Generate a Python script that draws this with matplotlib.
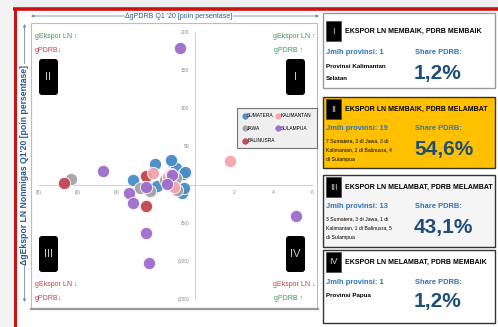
import matplotlib
matplotlib.use("Agg")
import matplotlib.pyplot as plt
from matplotlib.patches import Rectangle, FancyBboxPatch

plt.rcParams['font.family'] = ['Liberation Sans Narrow', 'Liberation Sans', 'DejaVu Sans']

# ---- data: change in PDRB growth (x) vs change in non-oil export growth (y), Q1 2020
regions = ['SUMATERA', 'JAWA', 'BALINUSRA', 'KALIMANTAN', 'SULAMPUA']
colors = ['#4a8cc6', '#a3a3a3', '#c0454f', '#f4a3ab', '#9c6ccb']

sumatera_x = [-3.2, -2.05, -1.18, -0.97, -0.6, -0.5, -1.95, -0.67, -0.55, -1.25]
sumatera_y = [7, 27, 30, 22, 14, 17, -1, -11, -4, 33]
jawa_x = [-6.35, -1.55, -1.0, -2.8, -0.9, -2.3]
jawa_y = [8, 6, 9, -4, -6, -8]
balinusra_x = [-6.7, -2.5, -2.5]
balinusra_y = [3, 12, -28]
kalimantan_x = [1.8, -2.15, -1.4, -1.25, -1.1]
kalimantan_y = [32, 16, 10, 15, -2]
sulampua_x = [-0.77, -4.7, -1.2, -1.45, -3.4, -3.2, -2.5, -2.5, -2.35, 5.2]
sulampua_y = [180, 18, 13, 1, -11, -24, -3, -63, -103, -41]

series_x = [sumatera_x, jawa_x, balinusra_x, kalimantan_x, sulampua_x]
series_y = [sumatera_y, jawa_y, balinusra_y, kalimantan_y, sulampua_y]

x_ticks = [-8, -6, -4, -2, 2, 4, 6]
x_tick_labels = ['(8)', '(6)', '(4)', '(2)', '2', '4', '6']
y_ticks = [200, 150, 100, 50, -50, -100, -150]
y_tick_labels = ['200', '150', '100', '50', '(50)', '(100)', '(150)']

# quadrant summary panels
quad_ids = ['I', 'II', 'III', 'IV']
quad_titles = ['EKSPOR LN MEMBAIK, PDRB MEMBAIK',
               'EKSPOR LN MEMBAIK, PDRB MELAMBAT',
               'EKSPOR LN MELAMBAT, PDRB MELAMBAT',
               'EKSPOR LN MELAMBAT, PDRB MEMBAIK']
quad_counts = ['Jmlh provinsi: 1', 'Jmlh provinsi: 19', 'Jmlh provinsi: 13', 'Jmlh provinsi: 1']
quad_details = [['Provinsi Kalimantan', 'Selatan'],
                ['7 Sumatera, 3 di Jawa, 3 di', 'Kalimantan, 2 di Balinusra, 4', 'di Sulampua'],
                ['3 Sumatera, 3 di Jawa, 1 di', 'Kalimantan, 1 di Balinusra, 5', 'di Sulampua'],
                ['Provinsi Papua']]
quad_shares = ['1,2%', '54,6%', '43,1%', '1,2%']

W, H = 498, 327
fig = plt.figure(figsize=(W / 100, H / 100), dpi=100)
fig.patch.set_facecolor('white')

# pixel-space canvas for frames, labels and panels
bg = fig.add_axes([0, 0, 1, 1])
bg.set_xlim(0, W)
bg.set_ylim(H, 0)
bg.axis('off')

bg.add_patch(Rectangle((0, 0), W, 8, facecolor='#eeeeee', edgecolor='none'))
bg.add_patch(Rectangle((0, 0), 13, H, facecolor='#f3f3f3', edgecolor='none'))
bg.plot([13, W], [9, 9], color='#cc1111', lw=2.6, solid_capstyle='butt')
bg.plot([14.5, 14.5], [8, H], color='#cc1111', lw=2.2, solid_capstyle='butt')

# plot box
PX0, PY0, PX1, PY1 = 31, 23, 317, 308
bg.add_patch(Rectangle((PX0, PY0), PX1 - PX0, PY1 - PY0, facecolor='white',
                       edgecolor='#bdbdbd', lw=0.8))
bg.plot([PX0, PX1 + 1], [PY1 + 0.8, PY1 + 0.8], color='#9a9a9a', lw=1.6)

# horizontal axis title with double arrow
axis_blue = '#2a5a8c'
bg.annotate('', xy=(31, 16), xytext=(319, 16),
            arrowprops=dict(arrowstyle='<|-|>', color='#6f8fb0', lw=0.6,
                            mutation_scale=4, shrinkA=0, shrinkB=0))
bg.text(179, 16, "\u0394gPDRB Q1 '20 [poin persentase]", ha='center', va='center',
        fontsize=5.0, color=axis_blue,
        bbox=dict(facecolor='white', edgecolor='none', pad=0.6))
# vertical axis title with double arrow
bg.annotate('', xy=(24.5, 24), xytext=(24.5, 302),
            arrowprops=dict(arrowstyle='<|-|>', color='#6f8fb0', lw=0.6,
                            mutation_scale=4, shrinkA=0, shrinkB=0))
bg.text(24.5, 165, "\u0394gEkspor LN Nonmigas Q1'20 [poin persentase]", ha='center',
        va='center', rotation=90, fontsize=6.2, color=axis_blue, fontweight='bold',
        bbox=dict(facecolor='white', edgecolor='none', pad=0.6))

# quadrant badges and corner notes
green, red = '#3a9a55', '#c4404a'
for lab, (bx, by) in zip(['II', 'I', 'III', 'IV'], [(39, 59), (286, 59), (39, 236), (286, 236)]):
    bg.add_patch(FancyBboxPatch((bx, by), 19, 36, boxstyle='round,pad=0,rounding_size=3',
                                facecolor='black', edgecolor='none'))
    bg.text(bx + 9.5, by + 18, lab, ha='center', va='center', fontsize=8, color='#c8c8c8')

corner_fs = 5.0
bg.text(35, 37, 'gEkspor LN \u2191', color=green, fontsize=corner_fs, va='center')
bg.text(35, 51, 'gPDRB\u2193', color=red, fontsize=corner_fs, va='center')
bg.text(273, 37, 'gEkspor LN \u2191', color=green, fontsize=corner_fs, va='center')
bg.text(274, 51, 'gPDRB \u2191', color=green, fontsize=corner_fs, va='center')
bg.text(35, 284, 'gEkspor LN \u2193', color=red, fontsize=corner_fs, va='center')
bg.text(35, 298, 'gPDRB\u2193', color=red, fontsize=corner_fs, va='center')
bg.text(273, 284, 'gEkspor LN \u2193', color=red, fontsize=corner_fs, va='center')
bg.text(274, 298, 'gPDRB \u2191', color=green, fontsize=corner_fs, va='center')

# ---- scatter axes (origin at pixel (195, 185); 19.5 px per x unit, 0.76 px per y unit)
x0p, y0p, sx, sy = 195, 185, 19.5, 0.76
ax = fig.add_axes([PX0 / W, (H - PY1) / H, (PX1 - PX0) / W, (PY1 - PY0) / H])
ax.set_xlim((PX0 - x0p) / sx, (PX1 - x0p) / sx)
ax.set_ylim((y0p - PY1) / sy, (y0p - PY0) / sy)
ax.patch.set_alpha(0)
for s in ax.spines.values():
    s.set_visible(False)
ax.set_xticks([])
ax.set_yticks([])

ax.plot([-8, 6], [0, 0], color='#d0d0d0', lw=0.7, zorder=1)
ax.plot([0, 0], [-150, 200], color='#d0d0d0', lw=0.7, zorder=1)
for v, t in zip(x_ticks, x_tick_labels):
    ax.text(v, -7, t, ha='center', va='top', fontsize=3.6, color='#8a8a8a')
for v, t in zip(y_ticks, y_tick_labels):
    ax.text(-0.3, v, t, ha='right', va='center', fontsize=3.6, color='#8a8a8a')

for name, c, xs, ys in zip(regions, colors, series_x, series_y):
    ax.scatter(xs, ys, s=78, color=c, edgecolors='white', linewidths=0.6, alpha=0.95,
               zorder=3, label=name)

leg = ax.legend(ncol=2, loc='upper right', bbox_to_anchor=(1.0, 0.702), fontsize=3.5,
                frameon=True, fancybox=False, borderaxespad=0, markerscale=0.6,
                handletextpad=0.1, columnspacing=0.3, labelspacing=1.5,
                borderpad=1.1, handlelength=0.9)
leg.get_frame().set_facecolor('#ececec')
leg.get_frame().set_edgecolor('#555555')
leg.get_frame().set_linewidth(0.8)

# ---- quadrant summary panels
panel_tops = [13, 97, 175, 250]
panel_bottoms = [88, 168, 247, 323]
panel_faces = ['white', '#ffc000', '#f5f5f5', 'white']
panel_edges = ['#9a9a9a', '#333333', '#333333', '#333333']
num_blue = '#1f4e79'
lbl_blue = '#2e75b6'
for i in range(4):
    t, b = panel_tops[i], panel_bottoms[i]
    bg.add_patch(Rectangle((323, t), 172, b - t, facecolor=panel_faces[i],
                           edgecolor=panel_edges[i], lw=1.0))
    off = 8 if i == 0 else 2
    bg.add_patch(Rectangle((326, t + off), 15, 20, facecolor='black', edgecolor='#444444',
                           lw=0.5))
    bg.text(333.5, t + off + 10, quad_ids[i], ha='center', va='center', fontsize=6.5,
            color='#cccccc')
    bg.text(345, t + off + 10, quad_titles[i], ha='left', va='center', fontsize=5.0,
            fontweight='bold', color='black')
    row = t + (40 if i == 0 else 32)
    bg.text(326, row, quad_counts[i], ha='left', va='center', fontsize=5.4,
            fontweight='bold', color=lbl_blue)
    bg.text(415, row, 'Share PDRB:', ha='left', va='center', fontsize=5.4,
            fontweight='bold', color=lbl_blue)
    det = quad_details[i]
    big = len(det) < 3
    dfs = 4.5 if big else 3.7
    step = 12 if big else 9.6
    for k, line in enumerate(det):
        bg.text(326, row + (13 if big else 11.5) + k * step, line, ha='left', va='center',
                fontsize=dfs, color='black', fontweight='bold' if big else 'normal')
    bg.text(414, row + 20, quad_shares[i], ha='left', va='center', fontsize=15,
            fontweight='bold', color=num_blue)

fig.savefig('out.png', dpi=100)
